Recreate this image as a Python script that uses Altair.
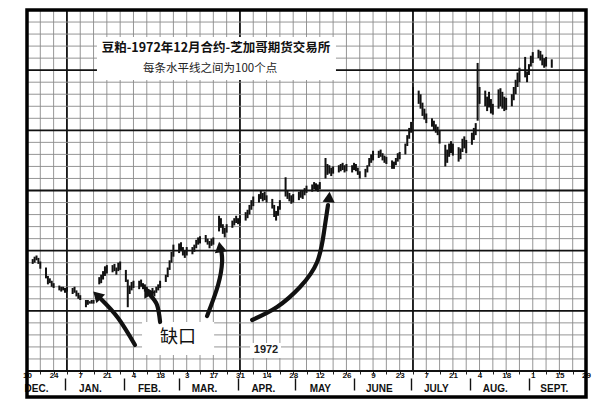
import altair as alt
import pandas as pd

# ---------------- data ----------------
START = pd.Timestamp("1971-12-10")          # left edge of the chart
END_DAY = 294                               # right edge (Sep 29, 1972)

# daily lows / highs, one trading week per line (first value is Fri Dec 10, 1971)
lows = [
    84.6,
    84.9, 85.0, 85.2, 84.9, 84.5,
    83.7, 83.2, 83.3, 83.0, 82.9,
    82.7, 82.6, 82.7, 82.5, 82.6,
    82.4, 82.5, 82.2, 82.0, 81.9,
    81.3, 81.5, 81.6, 81.6, 81.6,
    83.2, 83.3, 83.6, 83.9, 84.1,
    84.2, 84.3, 84.0, 84.3, 84.4,
    83.4, 81.3, 82.4, 82.7, 82.9,
    82.8, 83.0, 82.8, 82.6, 82.5,
    82.3, 82.2, 82.5, 82.7, 82.9,
    83.4, 83.8, 84.4, 85.0, 85.5,
    85.8, 86.0, 85.6, 85.4, 85.6,
    85.7, 85.9, 86.2, 86.5, 86.6,
    86.7, 86.5, 86.2, 86.4, 86.5,
    87.6, 87.9, 87.4, 87.1, 87.5,
    87.9, 88.1, 88.3, 88.2, 88.3,
    88.5, 88.7, 89.0, 89.4, 89.7,
    90.0, 90.3, 90.1, 90.2, 90.0,
    89.5, 88.8, 88.5, 88.9, 89.4,
    90.5, 90.3, 90.1, 89.9, 90.0,
    90.2, 90.4, 90.3, 90.6, 90.8,
    90.9, 91.1, 91.0, 90.9, 91.1,
    92.0, 92.3, 92.4, 92.2, 92.4,
    92.5, 92.6, 92.7, 92.5, 92.6,
    92.5, 92.7, 92.6, 92.3, 92.0,
    92.1, 92.5, 93.0, 93.3, 93.5,
    93.7, 93.8, 93.5, 93.3, 93.2,
    92.8, 92.8, 93.1, 93.4, 93.6,
    94.0, 94.7, 95.3, 95.8, 96.8,
    98.2, 97.8, 97.2, 96.9, 96.6,
    96.3, 96.0, 95.8, 95.6, 94.9,
    93.0, 93.3, 93.8, 94.1, 93.9,
    93.4, 93.6, 94.2, 94.5, 94.1,
    94.8, 95.2, 95.6, 96.8, 98.2,
    98.0, 97.6, 97.9, 97.4, 97.3,
    97.8, 98.0, 97.8, 97.6, 97.7,
    98.0, 98.5, 99.0, 99.6, 100.0,
    100.4, 100.0, 100.6, 101.3, 101.6,
    102.0, 101.8, 101.4, 101.2, 101.3,
    101.2,
]
highs = [
    85.1,
    85.3, 85.5, 85.6, 85.4, 85.1,
    84.6, 83.9, 83.7, 83.5, 83.3,
    83.1, 83.0, 83.0, 82.9, 83.0,
    82.9, 83.0, 82.7, 82.5, 82.3,
    81.9, 81.9, 81.8, 81.9, 81.9,
    83.8, 84.0, 84.3, 84.7, 84.8,
    84.8, 84.9, 84.6, 85.0, 85.1,
    84.4, 83.6, 83.1, 83.4, 83.5,
    83.5, 83.6, 83.3, 83.2, 83.0,
    82.9, 82.7, 83.0, 83.2, 83.5,
    84.0, 84.6, 85.2, 85.9, 86.5,
    86.6, 86.7, 86.3, 86.0, 86.3,
    86.3, 86.5, 86.9, 87.1, 87.2,
    87.3, 87.0, 86.8, 87.0, 87.1,
    88.9, 88.7, 88.2, 87.9, 88.2,
    88.5, 88.7, 88.9, 88.7, 88.9,
    89.2, 89.4, 89.8, 90.2, 90.5,
    90.7, 91.0, 90.8, 90.9, 90.6,
    90.3, 89.8, 89.3, 89.7, 90.2,
    92.1, 91.0, 90.8, 90.6, 90.7,
    90.9, 91.0, 91.0, 91.2, 91.4,
    91.5, 91.7, 91.6, 91.5, 91.7,
    93.7, 93.2, 93.1, 92.9, 93.0,
    93.1, 93.2, 93.3, 93.1, 93.2,
    93.1, 93.3, 93.2, 92.9, 92.6,
    92.8, 93.1, 93.7, 94.0, 94.3,
    94.3, 94.4, 94.1, 93.9, 93.8,
    93.5, 93.4, 93.7, 94.1, 94.2,
    94.9, 95.6, 96.2, 96.7, 99.6,
    99.3, 99.0, 98.3, 97.8, 97.4,
    97.0, 96.8, 96.5, 96.3, 96.0,
    94.8, 94.4, 94.9, 95.1, 94.9,
    94.6, 94.5, 95.3, 95.5, 95.2,
    95.8, 96.2, 96.6, 101.6, 99.6,
    99.3, 98.8, 99.2, 98.6, 98.2,
    99.4, 99.5, 99.2, 98.8, 98.7,
    99.0, 99.6, 100.2, 100.8, 101.2,
    102.1, 100.9, 101.5, 102.2, 102.5,
    102.7, 102.6, 102.3, 102.0, 102.1,
    101.9,
]

# axis labelling
month_names = ["DEC.", "JAN.", "FEB.", "MAR.", "APR.", "MAY", "JUNE", "JULY", "AUG.", "SEPT."]
month_marks = ["1971-12-10", "1972-01-01", "1972-02-01", "1972-03-01", "1972-04-01",
               "1972-05-01", "1972-06-01", "1972-07-01", "1972-08-01", "1972-09-01"]
week_days = list(range(0, END_DAY + 1, 7))      # weekly (Friday) grid lines
price_lines = list(range(76, 107))              # one line per 100 points
PRICE_LO, PRICE_HI = 76, 106

title_text = "豆粕-1972年12月合约-芝加哥期货交易所"
subtitle_text = "每条水平线之间为100个点"
gap_text = "缺口"
year_text = "1972"

# annotation arrows (day offset, price)
arrow_id = [1, 1, 1, 2, 2, 2, 3, 3, 3, 3, 4, 4, 4, 4, 4, 4]
arrow_day = [56.8, 47.9, 38.9, 70.0, 68.4, 64.7, 94.7, 100.5, 102.6, 102.1,
             118.4, 131.5, 143.6, 152.6, 156.2, 158.3]
arrow_val = [78.16, 80.4, 81.98, 80.07, 81.48, 82.31, 80.57, 83.15, 85.06, 86.05,
             80.24, 81.32, 82.98, 85.06, 87.55, 89.79]
head_day = [36.8, 63.1, 101.5, 158.9]
head_val = [82.3, 82.65, 86.3, 90.46]
head_angle = [315, 330, 350, 5]

# ---------------- tables ----------------
assert len(lows) == len(highs)
trade_dates = pd.bdate_range(START, periods=len(lows))
bars = pd.DataFrame({"day": (trade_dates - START).days, "lo": lows, "hi": highs})

month_days = [(pd.Timestamp(d) - START).days for d in month_marks]

MAJOR_C, MINOR_C = "#111111", "#8a8a8a"
vgrid = pd.DataFrame({"day": week_days})
vgrid["major"] = (vgrid["day"] - 21) % 91 == 0
vgrid["c"] = vgrid["major"].map({True: MAJOR_C, False: MINOR_C})
vgrid["w"] = vgrid["major"].map({True: 1.8, False: 0.9})
vgrid["top"] = PRICE_HI
vgrid["bot"] = PRICE_LO

hgrid = pd.DataFrame({"price": price_lines})
hgrid["major"] = (hgrid["price"] - PRICE_LO) % 5 == 0
hgrid["c"] = hgrid["major"].map({True: MAJOR_C, False: MINOR_C})
hgrid["w"] = hgrid["major"].map({True: 1.8, False: 0.9})
hgrid["x0"] = 0
hgrid["x1"] = END_DAY

arrows = pd.DataFrame({"arrow": arrow_id, "day": arrow_day, "val": arrow_val,
                       "seq": list(range(len(arrow_id)))})
heads = pd.DataFrame({"day": head_day, "val": head_val, "angle": head_angle})

boxes = pd.DataFrame({"x0": [36.8, 60.5, 117.3], "x1": [162.5, 98.4, 133.6],
                      "y0": [100.18, 77.33, 77.08], "y1": [103.76, 80.07, 78.33]})

texts = {
    "title": pd.DataFrame({"day": [99.4], "val": [102.84], "t": [title_text]}),
    "sub": pd.DataFrame({"day": [96.3], "val": [101.1], "t": [subtitle_text]}),
    "gap": pd.DataFrame({"day": [79.4], "val": [78.74], "t": [gap_text]}),
    "year": pd.DataFrame({"day": [125.7], "val": [77.74], "t": [year_text]}),
}

# ---------------- scales & axes ----------------
W, H = 559, 387
GRID_H = 361
xs = alt.Scale(domain=[0, END_DAY], nice=False, zero=False)
ys = alt.Scale(domain=[PRICE_LO, PRICE_HI], range=[GRID_H, 0], nice=False, zero=False)

LABEL_FONT = "Liberation Sans Narrow, Liberation Sans, Arial, sans-serif"
day_axis = alt.Axis(
    orient="bottom", offset=-(H - GRID_H), values=week_days, grid=False, domain=False,
    ticks=True, tickSize=3, tickWidth=1, tickColor="#222222", title=None,
    labelExpr="(datum.value % 14 == 0) ? utcFormat(utc(1971, 11, 10) + datum.value * 86400000, '%-d') : ''",
    labelFont=LABEL_FONT, labelFontSize=8, labelFontWeight="bold", labelColor="#111111",
    labelPadding=-2.5, labelFlush=False, labelOverlap=False,
)
month_lookup = "[" + ",".join(f"'{m}'" for m in month_names) + "]"
month_pos = "[" + ",".join(str(d) for d in month_days) + "]"
month_axis = alt.Axis(
    orient="bottom", offset=-(H - 368), values=month_days, grid=False, domain=False,
    ticks=True, tickSize=12, tickWidth=1.4, tickColor="#111111", tickOffset=-4,
    tickOpacity={"condition": {"test": "datum.value == 0", "value": 0}, "value": 1},
    title=None,
    labelExpr=f"{month_lookup}[indexof({month_pos}, datum.value)]",
    labelOffset={"condition": {"test": "datum.value == 0", "value": 13}, "value": 25},
    labelFont=LABEL_FONT, labelFontSize=10, labelFontWeight="bold", labelColor="#111111",
    labelBaseline="middle", labelPadding=-2, labelFlush=False, labelOverlap=False,
)

# ---------------- layers ----------------
vgrid_layer = alt.Chart(vgrid).mark_rule().encode(
    x=alt.X("day:Q", scale=xs, axis=day_axis),
    y=alt.Y("top:Q", scale=ys, axis=None), y2="bot:Q",
    color=alt.Color("c:N", scale=None),
    strokeWidth=alt.StrokeWidth("w:Q", scale=None),
)
hgrid_layer = alt.Chart(hgrid).mark_rule().encode(
    y=alt.Y("price:Q", scale=ys, axis=None),
    x=alt.X("x0:Q", scale=xs, axis=None), x2="x1:Q",
    color=alt.Color("c:N", scale=None),
    strokeWidth=alt.StrokeWidth("w:Q", scale=None),
)
box_layer = alt.Chart(boxes).mark_rect(fill="white").encode(
    x=alt.X("x0:Q", scale=xs, axis=None), x2="x1:Q",
    y=alt.Y("y0:Q", scale=ys, axis=None), y2="y1:Q",
)
bar_layer = alt.Chart(bars).mark_rule(color="#111111", strokeWidth=2.0).encode(
    x=alt.X("day:Q", scale=xs, axis=None),
    y=alt.Y("lo:Q", scale=ys, axis=None),
    y2="hi:Q",
)
arrow_layer = alt.Chart(arrows).mark_line(
    color="#111111", strokeWidth=4.2, strokeCap="round", interpolate="natural"
).encode(
    x=alt.X("day:Q", scale=xs, axis=None),
    y=alt.Y("val:Q", scale=ys, axis=None),
    detail="arrow:N",
    order="seq:Q",
)
head_layer = alt.Chart(heads).mark_point(
    shape="triangle-up", filled=True, size=150, color="#111111", opacity=1
).encode(
    x=alt.X("day:Q", scale=xs, axis=None),
    y=alt.Y("val:Q", scale=ys, axis=None),
    angle=alt.Angle("angle:Q", scale=None),
)
CJK = "Noto Sans CJK SC"
title_layer = alt.Chart(texts["title"]).mark_text(
    font=CJK, fontSize=12.5, fontWeight="bold", color="#111111"
).encode(x=alt.X("day:Q", scale=xs, axis=month_axis), y=alt.Y("val:Q", scale=ys, axis=None), text="t:N")
sub_layer = alt.Chart(texts["sub"]).mark_text(
    font=CJK, fontSize=11.5, color="#222222"
).encode(x=alt.X("day:Q", scale=xs, axis=None), y=alt.Y("val:Q", scale=ys, axis=None), text="t:N")
gap_layer = alt.Chart(texts["gap"]).mark_text(
    font=CJK, fontSize=18, color="#111111"
).encode(x=alt.X("day:Q", scale=xs, axis=None), y=alt.Y("val:Q", scale=ys, axis=None), text="t:N")
year_layer = alt.Chart(texts["year"]).mark_text(
    font="Liberation Sans, Arial, sans-serif", fontSize=11, fontWeight="bold", color="#222222"
).encode(x=alt.X("day:Q", scale=xs, axis=None), y=alt.Y("val:Q", scale=ys, axis=None), text="t:N")
frame_layer = alt.Chart(pd.DataFrame({"a": [0]})).mark_rect(
    fill="transparent", stroke="#000000", strokeWidth=3.5
).encode(x=alt.value(0), x2=alt.value(W), y=alt.value(0), y2=alt.value(H))

chart = alt.layer(
    vgrid_layer, hgrid_layer, box_layer, bar_layer, arrow_layer, head_layer,
    title_layer, sub_layer, gap_layer, year_layer, frame_layer,
).resolve_axis(x="independent").properties(
    width=W, height=H,
    autosize=alt.AutoSizeParams(type="none"),
    padding={"left": 19, "top": 2, "right": 20, "bottom": 10},
).configure_view(stroke=None).configure(background="white")

chart.save("out.html", embed_options={"renderer": "svg", "actions": False})
